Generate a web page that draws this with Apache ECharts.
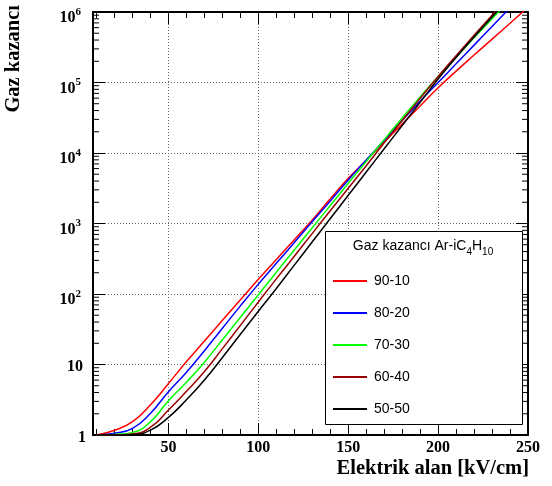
<!DOCTYPE html>
<html>
<head>
<meta charset="utf-8">
<script src="https://cdn.jsdelivr.net/npm/echarts@6/dist/echarts.min.js"></script>
<style>
  html, body { margin: 0; padding: 0; background: #fff; }
  #chart { width: 552px; height: 486px; }
</style>
</head>
<body>
<div id="chart"></div>
<script>
// Elektrik alan (kV/cm)
const fieldKV = [10, 20, 30, 40, 50, 60, 70, 80, 90, 100, 110, 120, 130,
  140, 150, 160, 170, 180, 190, 200, 210, 220, 230, 240, 250]

// Gaz kazancı, Ar-iC4H10 karışımları
const gain9010 = [1.0, 1.17, 1.55, 2.69, 5.37, 11.0, 21.5, 42.3, 82.8, 162, 309, 589, 1120,
  2240, 4370, 7890, 14300, 25700, 46500, 84100, 145000, 245000, 412000, 692000, 1170000]
const gain8020 = [1.0, 1.06, 1.24, 2.04, 4.11, 7.76, 15.7, 32.7, 67.9, 138, 272, 538, 1064,
  2089, 4140, 7943, 15136, 28840, 54325, 100000, 184000, 339000, 624000, 1148000, null]
const gain7030 = [1.0, 1.02, 1.09, 1.55, 3.07, 5.62, 10.8, 22.4, 46.8, 97.7, 204, 422, 871,
  1799, 3715, 7586, 15488, 31261, 62373, 121600, 229000, 431500, 803500, 1496000, null]
const gain6040 = [1.0, 1.0, 1.03, 1.29, 2.26, 4.17, 7.94, 16.8, 35.9, 77.1, 164, 343, 724,
  1514, 3162, 6607, 13964, 28840, 59566, 121600, 239900, 467700, 901600, 1738000, null]
const gain5050 = [1.0, 1.0, 1.01, 1.17, 1.78, 3.16, 6.03, 12.6, 26.9, 56.9, 120, 257, 550,
  1175, 2512, 5370, 11482, 24547, 52481, 112200, 226500, 441600, 851100, 1641000, null]

const seriesNames = ['90-10', '80-20', '70-30', '60-40', '50-50']
const seriesColors = ['#ff0000', '#0000ff', '#00ff00', '#990000', '#000000']
const seriesData = [gain9010, gain8020, gain7030, gain6040, gain5050]

// tick labels
const xMajorTicks = [50, 100, 150, 200, 250]
const xMinorTicks = [10, 20, 30, 40, 60, 70, 80, 90, 110, 120, 130, 140,
  160, 170, 180, 190, 210, 220, 230, 240]
const yMinorSteps = [2, 3, 4, 5, 6, 7, 8, 9]

const serif = '"Liberation Serif", "Times New Roman", serif'
const sans = '"Liberation Sans", Arial, sans-serif'
const gridLine = { show: true, lineStyle: { color: '#666', width: 1, type: [1, 2] } }

function xAxisOf(position, ticks, len, main) {
  return {
    type: 'value',
    min: 8,
    max: 250,
    position: position,
    axisLine: { show: main, onZero: false, lineStyle: { color: '#000', width: 2 } },
    axisTick: { show: true, inside: true, length: len, customValues: ticks,
      lineStyle: { color: '#000', width: 1 } },
    axisLabel: {
      show: main && position === 'bottom',
      customValues: xMajorTicks,
      margin: 5,
      color: '#000',
      fontFamily: serif,
      fontWeight: 'bold',
      fontSize: 16
    },
    splitLine: main && position === 'bottom' ? gridLine : { show: false }
  }
}

function yAxisOf(position, main) {
  return {
    type: 'log',
    logBase: 10,
    min: 1,
    max: 1000000,
    position: position,
    axisLine: { show: true, onZero: false, lineStyle: { color: '#000', width: 2 } },
    axisTick: { show: true, inside: true, length: 12, lineStyle: { color: '#000', width: 1 } },
    axisLabel: {
      show: main,
      margin: 4,
      formatter: v => {
        const p = Math.round(Math.log10(v))
        if (p === 0) return '{one|1}'
        if (p === 1) return '{ten|10}'
        return '{b|10}{s|' + p + '}'
      },
      rich: {
        one: { fontFamily: serif, fontWeight: 'bold', fontSize: 16, color: '#000', padding: [6, 3, 0, 0] },
        ten: { fontFamily: serif, fontWeight: 'bold', fontSize: 16, color: '#000', padding: [4, 6, 0, 0] },
        b: { fontFamily: serif, fontWeight: 'bold', fontSize: 16, color: '#000', padding: [12, 0, 0, 0] },
        s: { fontFamily: serif, fontWeight: 'bold', fontSize: 11, color: '#000', padding: [0, 8, 0, 0] }
      }
    },
    splitLine: main ? gridLine : { show: false }
  }
}

const chart = echarts.init(document.getElementById('chart'))

const option = {
  animation: false,
  backgroundColor: '#fff',
  grid: { left: 93, right: 24, top: 12, bottom: 51, containLabel: false },
  xAxis: [
    xAxisOf('bottom', xMajorTicks, 12, true),
    xAxisOf('top', xMajorTicks, 12, true),
    xAxisOf('bottom', xMinorTicks, 6, false),
    xAxisOf('top', xMinorTicks, 6, false)
  ],
  yAxis: [yAxisOf('left', true), yAxisOf('right', false)],
  legend: {
    orient: 'vertical',
    left: 332,
    top: 274,
    padding: 0,
    itemWidth: 34,
    itemHeight: 14,
    itemGap: 18,
    z: 60,
    data: seriesNames,
    itemStyle: { opacity: 0 },
    textStyle: { fontFamily: sans, fontSize: 14, color: '#000', padding: [0, 0, 0, 2] }
  },
  series: seriesNames.map((name, i) => ({
    name: name,
    type: 'line',
    symbol: 'none',
    smooth: 0.5,
    data: fieldKV.map((x, k) => [x, seriesData[i][k]]).filter(d => d[1] !== null),
    lineStyle: { color: seriesColors[i], width: 1.5 },
    itemStyle: { color: seriesColors[i] }
  }))
}

chart.setOption(option)

// log minor ticks on left/right frame, plus legend box and titles
const xl = chart.convertToPixel({ xAxisIndex: 0 }, 8)
const xr = chart.convertToPixel({ xAxisIndex: 0 }, 250)
const elements = []
for (let d = 0; d < 6; d++) {
  yMinorSteps.forEach(k => {
    const y = chart.convertToPixel({ yAxisIndex: 0 }, k * Math.pow(10, d))
    elements.push({ type: 'line', z: 5, shape: { x1: xl, y1: y, x2: xl + 6, y2: y },
      style: { stroke: '#000', lineWidth: 1 } })
    elements.push({ type: 'line', z: 5, shape: { x1: xr - 6, y1: y, x2: xr, y2: y },
      style: { stroke: '#000', lineWidth: 1 } })
  })
}
elements.push({
  type: 'rect', z: 50,
  shape: { x: 325.5, y: 231.5, width: 197, height: 193 },
  style: { fill: '#fff', stroke: '#000', lineWidth: 1 }
})
elements.push({
  type: 'text', z: 61, x: 423, y: 246,
  style: {
    text: '{n|Gaz kazancı Ar-iC}{s|4}{n|H}{s|10}',
    align: 'center',
    verticalAlign: 'middle',
    rich: {
      n: { fontFamily: sans, fontSize: 14, fill: '#000' },
      s: { fontFamily: sans, fontSize: 10, fill: '#000', padding: [12, 0, 0, 0] }
    }
  }
})
elements.push({
  type: 'text', z: 10, x: 529, y: 469,
  style: { text: 'Elektrik alan [kV/cm]', align: 'right', verticalAlign: 'middle',
    fontFamily: serif, fontWeight: 'bold', fontSize: 20.5, fill: '#000' }
})
elements.push({
  type: 'text', z: 10, x: 14, y: 5, rotation: Math.PI / 2,
  style: { text: 'Gaz kazancı', align: 'right', verticalAlign: 'middle',
    fontFamily: serif, fontWeight: 'bold', fontSize: 20.5, fill: '#000' }
})
chart.setOption({ graphic: { elements: elements } })
</script>
</body>
</html>
